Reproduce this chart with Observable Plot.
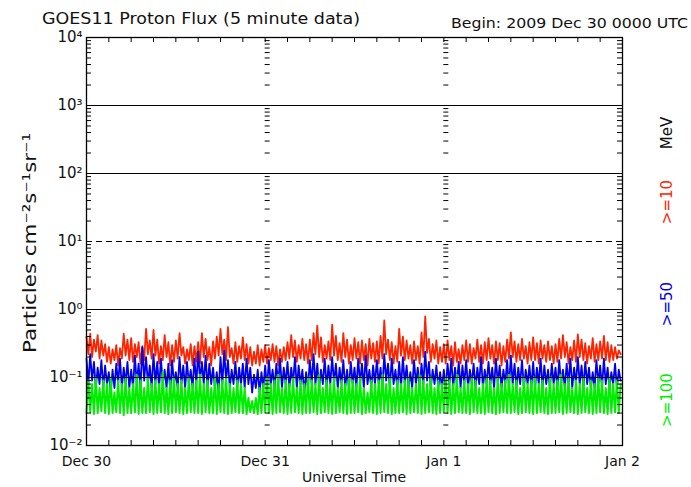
<!DOCTYPE html>
<html><head><meta charset="utf-8">
<script src="https://cdn.jsdelivr.net/npm/d3@7"></script>
<script src="https://cdn.jsdelivr.net/npm/@observablehq/plot@0.6"></script>
<style>body{margin:0;background:#fff}#chart{width:691px;height:487px}</style>
</head><body><div id="chart"></div>
<script>
const startTime = Date.UTC(2009, 11, 30);
const stepMinutes = 15;
const flux10 = [
.40,.22,.44,.20,.36,.24,.42,.19,.35,.21,.31,.17,
.28,.16,.26,.18,.30,.15,.27,.19,.44,.21,.36,.18,
.38,.17,.31,.20,.33,.16,.29,.18,.52,.22,.35,.19,
.50,.21,.36,.16,.29,.18,.42,.20,.33,.15,.30,.17,
.35,.19,.45,.21,.28,.16,.26,.18,.31,.15,.29,.17,
.33,.16,.45,.20,.37,.18,.28,.15,.34,.19,.40,.21,
.52,.22,.36,.18,.55,.20,.27,.16,.33,.17,.29,.19,
.39,.18,.31,.16,.28,.15,.24,.16,.30,.15,.26,.17,
.30,.16,.27,.18,.31,.17,.29,.15,.26,.17,.28,.18,
.33,.19,.42,.20,.35,.17,.30,.19,.37,.18,.31,.16,
.36,.18,.45,.22,.58,.20,.39,.17,.30,.19,.34,.18,
.60,.21,.41,.18,.32,.17,.45,.20,.36,.16,.30,.18,
.38,.19,.33,.16,.35,.18,.31,.15,.37,.19,.32,.17,
.34,.16,.41,.19,.69,.22,.36,.18,.33,.16,.29,.17,
.52,.21,.40,.18,.35,.19,.30,.16,.34,.18,.29,.16,
.46,.20,.79,.23,.37,.17,.31,.19,.35,.16,.28,.17,
.31,.16,.35,.18,.29,.15,.33,.17,.26,.16,.30,.18,
.35,.17,.31,.16,.27,.19,.36,.17,.30,.16,.33,.18,
.38,.19,.30,.16,.34,.18,.32,.15,.29,.17,.36,.19,
.46,.20,.34,.17,.31,.18,.37,.19,.29,.16,.33,.18,
.39,.18,.32,.16,.35,.19,.30,.17,.34,.18,.29,.16,
.31,.17,.37,.19,.42,.20,.33,.16,.28,.18,.35,.17,
.43,.20,.36,.18,.32,.16,.29,.19,.38,.17,.31,.18,
.34,.19,.41,.18,.33,.17,.30,.18,.28,.19,.25,.22];
const flux50 = [
.19,.08,.22,.09,.17,.07,.14,.08,.18,.07,.15,.08,
.12,.06,.13,.07,.16,.08,.19,.07,.14,.08,.17,.07,
.13,.07,.21,.08,.16,.07,.28,.09,.20,.08,.15,.07,
.22,.08,.17,.07,.19,.08,.13,.07,.16,.06,.18,.08,
.12,.07,.20,.08,.15,.07,.17,.08,.13,.07,.19,.08,
.24,.09,.17,.08,.21,.07,.16,.08,.14,.07,.12,.06,
.20,.08,.25,.09,.18,.07,.13,.08,.17,.07,.14,.08,
.16,.07,.19,.08,.14,.06,.11,.07,.13,.06,.12,.07,
.15,.07,.18,.08,.13,.07,.16,.08,.19,.07,.14,.08,
.17,.07,.14,.08,.20,.07,.15,.08,.13,.06,.12,.07,
.18,.08,.22,.08,.16,.07,.13,.08,.19,.07,.15,.08,
.20,.08,.16,.07,.14,.08,.18,.07,.13,.07,.17,.08,
.14,.07,.19,.08,.16,.07,.21,.08,.13,.07,.15,.08,
.18,.08,.14,.07,.22,.09,.16,.07,.19,.08,.13,.07,
.17,.07,.20,.08,.15,.07,.12,.07,.18,.08,.14,.07,
.16,.08,.24,.09,.17,.07,.13,.08,.15,.07,.12,.07,
.13,.07,.16,.08,.19,.07,.14,.08,.17,.07,.15,.08,
.18,.07,.13,.08,.16,.07,.14,.08,.20,.07,.13,.08,
.17,.08,.14,.07,.19,.08,.15,.07,.13,.08,.18,.07,
.21,.08,.16,.07,.14,.08,.18,.07,.13,.08,.15,.07,
.17,.07,.14,.08,.19,.07,.15,.08,.13,.07,.16,.08,
.14,.07,.18,.08,.13,.07,.16,.08,.19,.07,.14,.08,
.20,.08,.15,.07,.17,.08,.14,.07,.12,.07,.18,.08,
.15,.07,.19,.08,.14,.07,.12,.08,.16,.07,.13,.09];
const flux100 = [
.03,.09,.031,.08,.029,.10,.03,.07,.032,.09,.03,.08,
.029,.10,.03,.06,.031,.09,.03,.08,.028,.10,.03,.07,
.03,.08,.031,.11,.029,.09,.03,.07,.03,.10,.031,.08,
.029,.09,.03,.08,.031,.12,.03,.07,.029,.09,.03,.10,
.031,.08,.03,.09,.029,.07,.03,.10,.031,.08,.03,.09,
.03,.11,.029,.08,.031,.09,.03,.07,.03,.10,.029,.08,
.031,.09,.03,.10,.029,.08,.03,.07,.031,.09,.03,.08,
.03,.07,.029,.05,.031,.045,.03,.05,.029,.07,.03,.08,
.031,.10,.03,.08,.029,.09,.03,.11,.031,.07,.03,.09,
.029,.08,.03,.10,.031,.07,.03,.09,.029,.08,.03,.10,
.03,.09,.031,.08,.029,.11,.03,.07,.031,.09,.03,.08,
.029,.10,.03,.07,.031,.09,.03,.08,.029,.10,.03,.09,
.03,.08,.031,.10,.029,.07,.03,.06,.031,.09,.03,.08,
.029,.09,.03,.11,.031,.08,.03,.10,.029,.07,.03,.09,
.03,.08,.031,.09,.029,.10,.03,.07,.031,.08,.03,.11,
.029,.09,.03,.08,.031,.10,.03,.07,.029,.09,.03,.08,
.031,.10,.03,.09,.029,.08,.03,.11,.031,.07,.03,.09,
.03,.08,.029,.10,.031,.09,.03,.07,.03,.08,.029,.10,
.031,.09,.03,.07,.029,.10,.03,.08,.031,.09,.03,.11,
.03,.08,.031,.09,.029,.07,.03,.10,.031,.08,.03,.09,
.029,.10,.03,.08,.031,.09,.03,.07,.029,.10,.03,.08,
.03,.09,.031,.11,.029,.08,.03,.10,.031,.07,.03,.09,
.029,.08,.03,.10,.031,.07,.03,.09,.029,.08,.03,.10,
.031,.09,.03,.07,.029,.10,.03,.08,.031,.09,.03,.08];
const seriesNames = [">=10", ">=50", ">=100"];
const seriesColors = ["#ff2400", "#0000f0", "#00ee00"];
const yTicks = [1e-2, 1e-1, 1, 1e1, 1e2, 1e3, 1e4];
const yTickLabels = ["10\u207B\u00B2", "10\u207B\u00B9", "10\u2070", "10\u00B9", "10\u00B2", "10\u00B3", "10\u2074"];
const gridSolid = [1e-1, 1, 1e2, 1e3];
const gridDashed = [1e1];
const dayTicks = [new Date(Date.UTC(2009,11,30)), new Date(Date.UTC(2009,11,31)), new Date(Date.UTC(2010,0,1)), new Date(Date.UTC(2010,0,2))];
const dayLabels = ["Dec 30", "Dec 31", "Jan 1", "Jan 2"];
const titleText = "GOES11 Proton Flux (5 minute data)";
const beginText = "Begin: 2009 Dec 30 0000 UTC";
const yLabel = "Particles cm\u207B\u00B2s\u207B\u00B9sr\u207B\u00B9";
const xLabel = "Universal Time";

const timeAt = i => new Date(startTime + i * stepMinutes * 60000);
const rows = [flux10, flux50, flux100].flatMap((arr, k) =>
  arr.map((v, i) => ({t: timeAt(i), v, s: seriesNames[k]})));
const minorTicks = d3.range(-2, 4).flatMap(e => d3.range(2, 10).map(m => m * Math.pow(10, e)));
const hourTicks = d3.utcHour.every(3).range(dayTicks[0], new Date(+dayTicks[3] + 1));
const font = "DejaVu Sans";

const marks = [];
seriesNames.forEach((name, k) => {
  marks.push(Plot.line(rows.filter(r => r.s === name), {
    x: "t", y: "v", stroke: seriesColors[k], strokeWidth: k === 2 ? 2.0 : 1.8, curve: "linear"
  }));
});
marks.push(Plot.ruleY(gridSolid, {stroke: "#000", strokeWidth: 1.2}));
marks.push(Plot.ruleY(gridDashed, {stroke: "#000", strokeWidth: 1.2, strokeDasharray: "6,4"}));
dayTicks.forEach((d, j) => {
  const last = j === dayTicks.length - 1;
  marks.push(Plot.ruleY(minorTicks, {y: v => v, x1: () => d, x2: () => d,
    insetRight: last ? 0 : -5, insetLeft: last ? -5 : 0, stroke: "#000", strokeWidth: 1}));
});
marks.push(Plot.ruleX(hourTicks, {x: d => d, y1: () => 1e-2, y2: () => 1e-2, insetTop: -5, stroke: "#000"}));
marks.push(Plot.ruleX(hourTicks, {x: d => d, y1: () => 1e4, y2: () => 1e4, insetBottom: -5, stroke: "#000"}));
marks.push(Plot.frame({stroke: "#000", strokeWidth: 1.3}));
marks.push(Plot.axisY({ticks: yTicks, tickFormat: d => yTickLabels[yTicks.indexOf(d)], tickSize: 0, tickPadding: 4, fontSize: 15, fill: "#111"}));
marks.push(Plot.axisX({ticks: dayTicks, tickFormat: d => dayLabels[dayTicks.findIndex(t => +t === +d)], tickSize: 0, tickPadding: 11, fontSize: 14, fill: "#111", label: null}));

const svg = Plot.plot({
  width: 691, height: 487,
  marginLeft: 86, marginRight: 69, marginTop: 37, marginBottom: 42,
  style: {fontFamily: font, background: "#fff", color: "#111"},
  x: {type: "utc", domain: [dayTicks[0], dayTicks[3]]},
  y: {type: "log", domain: [1e-2, 1e4], label: null},
  marks
});
const s = d3.select(svg);
function addText(txt, x, y, size, opts = {}) {
  const t = s.append("text").attr("x", x).attr("y", y).attr("font-family", font)
    .attr("font-size", size).attr("fill", opts.fill || "#111")
    .attr("text-anchor", opts.anchor || "start").text(txt);
  if (opts.rotate) t.attr("transform", `rotate(${opts.rotate},${x},${y})`);
  if (opts.len) t.attr("textLength", opts.len).attr("lengthAdjust", "spacingAndGlyphs");
  return t;
}
addText(titleText, 42, 24, 15, {len: 318});
addText(beginText, 451, 28, 14, {len: 237});
addText(yLabel, 36, 353, 18, {rotate: -90, len: 220});
addText(xLabel, 354, 482, 14, {anchor: "middle"});
addText("MeV", 672, 133, 15, {anchor: "middle", rotate: -90});
addText(seriesNames[0], 672, 202, 15, {anchor: "middle", rotate: -90, fill: seriesColors[0]});
addText(seriesNames[1], 672, 304, 15, {anchor: "middle", rotate: -90, fill: seriesColors[1]});
addText(seriesNames[2], 672, 400, 15, {anchor: "middle", rotate: -90, fill: seriesColors[2]});
document.getElementById("chart").appendChild(svg);
</script>
</body></html>
